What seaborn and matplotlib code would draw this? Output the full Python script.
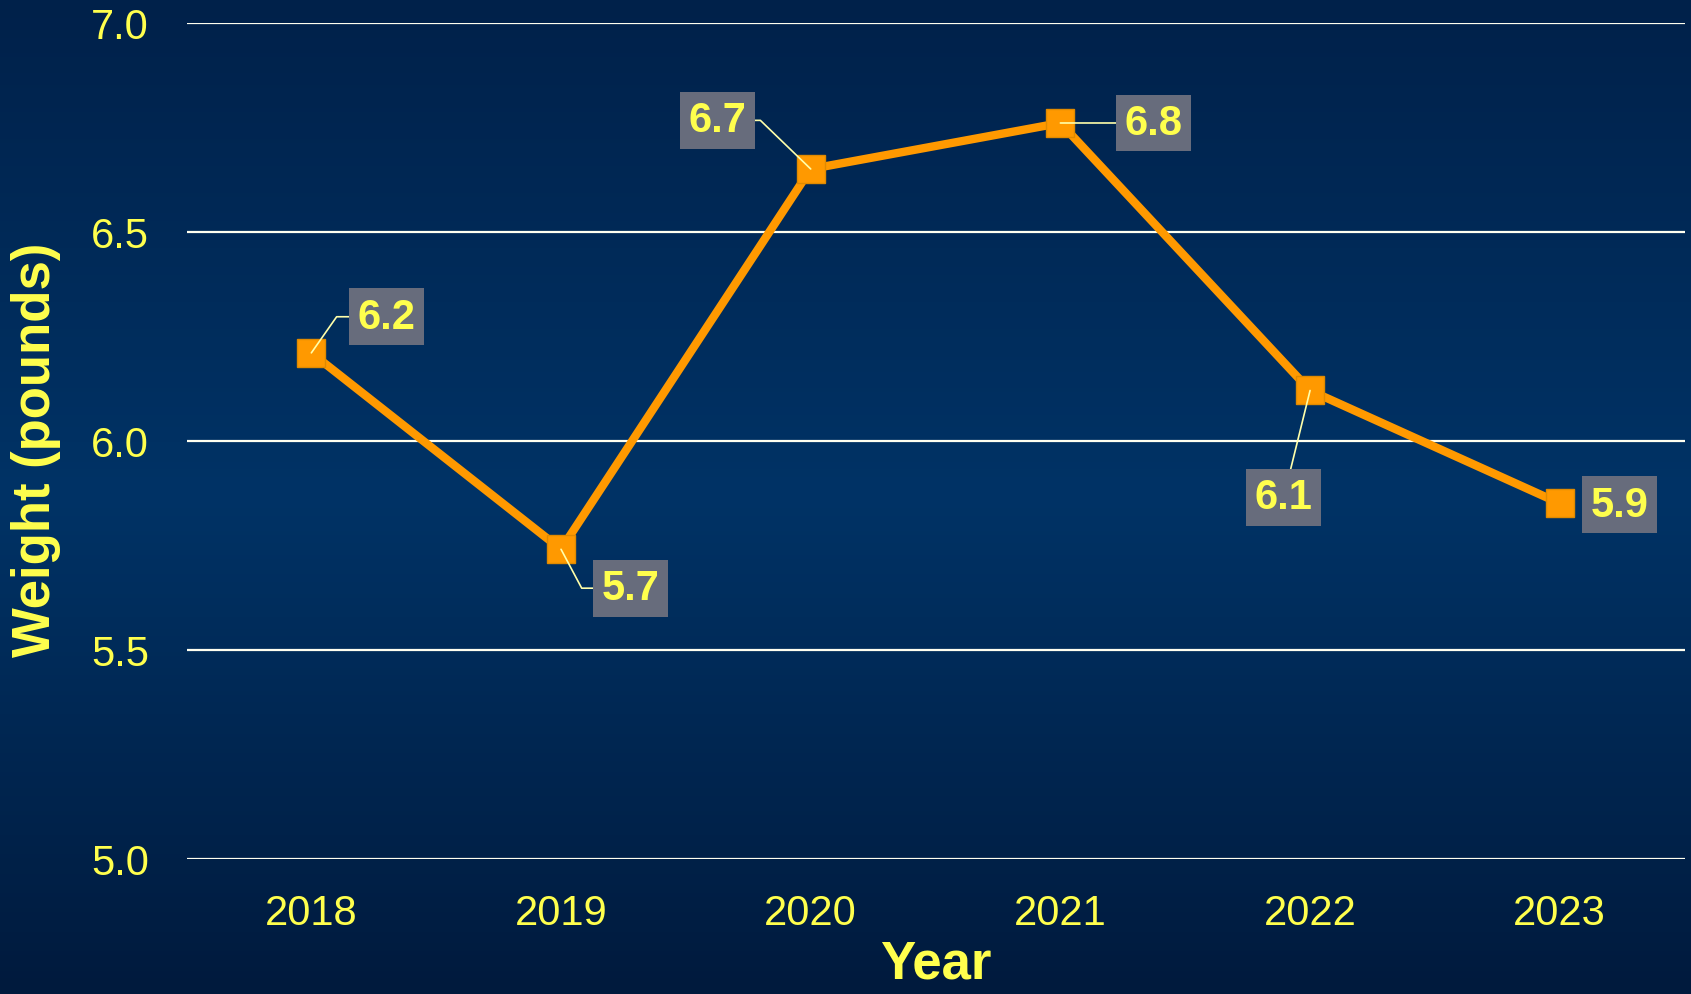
import numpy as np
import pandas as pd
import matplotlib
matplotlib.use("Agg")
import matplotlib.pyplot as plt
from matplotlib.colors import LinearSegmentedColormap
import seaborn as sns

years = ["2018", "2019", "2020", "2021", "2022", "2023"]
weights = [6.21, 5.74, 6.65, 6.76, 6.12, 5.85]
value_labels = ["6.2", "5.7", "6.7", "6.8", "6.1", "5.9"]
y_ticks = [5.0, 5.5, 6.0, 6.5, 7.0]

# label offsets (points) and leader line styles
label_offsets = [(54, 26), (50, -28), (-67, 35), (67, 0), (-19, -77), (43, -1)]
leader_styles = [
    "angle,angleA=0,angleB=55,rad=0",
    "angle,angleA=0,angleB=-62,rad=0",
    "angle,angleA=0,angleB=136,rad=0",
    "arc3,rad=0",
    "arc3,rad=0",
    None,
]

yellow = "#FFFF4D"
orange = "#FF9900"

df = pd.DataFrame({"Year": years, "Weight": weights})

sns.set_theme(style="white")
plt.rcParams["font.family"] = ["Liberation Sans", "DejaVu Sans"]

fig = plt.figure(figsize=(16.91, 9.95), dpi=100)

# background gradient
bg = fig.add_axes([0, 0, 1, 1], zorder=-10)
cmap = LinearSegmentedColormap.from_list(
    "bg", [(0.0, "#00214A"), (0.5, "#003366"), (1.0, "#001A3D")])
grad = np.linspace(0, 1, 256).reshape(-1, 1)
bg.imshow(grad, aspect="auto", cmap=cmap, extent=[0, 1, 0, 1], origin="upper")
bg.axis("off")

ax = fig.add_axes([0.1103, 0.1361, 0.8859, 0.8401])
ax.set_facecolor("none")

sns.pointplot(data=df, x="Year", y="Weight", color=orange, marker="s",
              markersize=20, linewidth=6, errorbar=None, ax=ax,
              markeredgecolor="#E08A00", markeredgewidth=1)

for i, (val, txt) in enumerate(zip(weights, value_labels)):
    arrow = None
    if leader_styles[i] is not None:
        arrow = dict(arrowstyle="-", color="#FFFFAA", lw=1.2,
                     shrinkA=0, shrinkB=0, connectionstyle=leader_styles[i])
    ax.annotate(txt, xy=(i, val), xytext=label_offsets[i],
                textcoords="offset points", ha="center", va="center",
                fontsize=30, fontweight="bold", color=yellow,
                bbox=dict(boxstyle="square,pad=0.2", fc="#676C7C", ec="none"),
                arrowprops=arrow, zorder=5)

ax.set_ylim(5.0, 7.0)
ax.set_xlim(-0.5, 5.5)
ax.set_yticks(y_ticks)
ax.set_yticklabels([f"{t:.1f}" for t in y_ticks])
ax.yaxis.grid(True, color="#FFFFF0", lw=1.6)
ax.xaxis.grid(False)
ax.set_axisbelow(True)
for s in ax.spines.values():
    s.set_visible(False)

ax.tick_params(axis="y", length=0, pad=27, labelsize=30, labelcolor=yellow)
ax.tick_params(axis="x", length=0, pad=25, labelsize=30, labelcolor=yellow)

ax.set_xlabel("Year", fontsize=38, fontweight="bold", color=yellow, labelpad=4)
ax.set_ylabel("Weight (pounds)", fontsize=38, fontweight="bold", color=yellow)
ax.yaxis.set_label_coords(-0.084, 0.49)

fig.savefig("out.png", dpi=100)
